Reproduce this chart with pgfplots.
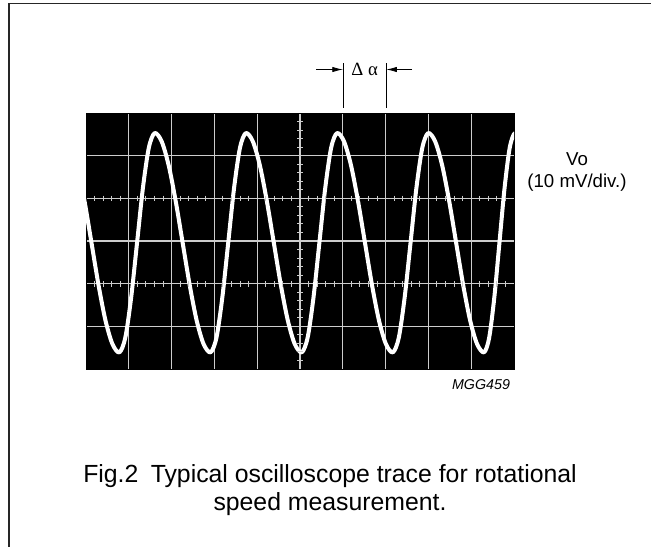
\documentclass[border=0pt]{standalone}
\usepackage{fontspec}
\setmainfont{Liberation Sans}
\newfontfamily\greekfont{Liberation Serif}
\usepackage{pgfplots}
\pgfplotsset{compat=1.18}
\usetikzlibrary{arrows.meta}

\begin{document}
\begin{tikzpicture}
% screen: reference pixels 86..514 x 113..369, 1px = 0.75pt
\begin{axis}[
    at={(64.5pt,-84.75pt)}, anchor=north west,
    width=321pt, height=192pt, scale only axis,
    xmin=0, xmax=10, ymin=-3, ymax=3,
    axis background/.style={fill=black},
    axis line style={draw=black},
    xtick={1,...,9}, ytick={-2,...,2},
    xticklabels={}, yticklabels={},
    major tick length=0pt,
    grid=major,
    grid style={gray!40, line width=0.8pt},
]
% Vo trace (x in div, y in div)
\addplot[white, line width=3pt, smooth, line join=round] coordinates {
    (-0.525,2.53)(-0.362,2.334)(-0.199,1.777)(-0.036,0.944)(0.128,-0.04)(0.291,-1.024)(0.454,-1.857)(0.617,-2.414)(0.780,-2.61)
    (0.918,-2.266)(1.055,-1.325)(1.193,-0.04)(1.330,1.245)(1.468,2.186)(1.605,2.53)
    (1.768,2.334)(1.931,1.777)(2.094,0.944)(2.258,-0.04)(2.421,-1.024)(2.584,-1.857)(2.747,-2.414)(2.910,-2.61)
    (3.048,-2.266)(3.185,-1.325)(3.323,-0.04)(3.460,1.245)(3.598,2.186)(3.735,2.53)
    (3.898,2.334)(4.061,1.777)(4.224,0.944)(4.388,-0.04)(4.551,-1.024)(4.714,-1.857)(4.877,-2.414)(5.040,-2.61)
    (5.178,-2.266)(5.315,-1.325)(5.453,-0.04)(5.590,1.245)(5.728,2.186)(5.865,2.53)
    (6.028,2.334)(6.191,1.777)(6.354,0.944)(6.518,-0.04)(6.681,-1.024)(6.844,-1.857)(7.007,-2.414)(7.170,-2.61)
    (7.308,-2.266)(7.445,-1.325)(7.583,-0.04)(7.720,1.245)(7.858,2.186)(7.995,2.53)
    (8.158,2.334)(8.321,1.777)(8.484,0.944)(8.648,-0.04)(8.811,-1.024)(8.974,-1.857)(9.137,-2.414)(9.300,-2.61)
    (9.42,-2.266)(9.54,-1.325)(9.66,-0.04)(9.78,1.245)(9.90,2.186)(10.02,2.53)(10.15,2.35)
};
\end{axis}

\begin{scope}[x=0.75pt,y=-0.75pt]
\path[use as bounding box] (0,0) rectangle (651,547);
\draw[black!85, line width=1.2pt] (9,547) -- (9,3.5) -- (651,3.5);

% graticule sub-division ticks
\foreach \i in {1,...,49} {
    \draw[gray!40, line width=0.8pt] ({86+8.56*\i},195.6) -- ({86+8.56*\i},201.0);
    \draw[gray!40, line width=0.8pt] ({86+8.56*\i},281.3) -- ({86+8.56*\i},286.7);
}
\foreach \j in {1,...,29}
    \draw[gray!40, line width=0.8pt] (297.3,{113+8.5333*\j}) -- (302.7,{113+8.5333*\j});

% delta alpha marker
\draw[line width=0.6pt] (343.3,63) -- (343.3,108);
\draw[line width=0.6pt] (386,63) -- (386,108);
\draw[line width=0.6pt, -{Latex[length=8pt,width=4pt]}] (316,69.5) -- (343,69.5);
\draw[line width=0.6pt, -{Latex[length=8pt,width=4pt]}] (412,69.5) -- (386.3,69.5);
\node[anchor=base, font=\greekfont\fontsize{14}{16}\selectfont, inner sep=0pt] at (364.6,75) {Δ α};

\node[anchor=base, font=\fontsize{14}{17}\selectfont, inner sep=0pt] at (577,165) {Vo};
\node[anchor=base, font=\fontsize{14}{17}\selectfont, inner sep=0pt] at (577,187) {(10 mV/div.)};
\node[anchor=base, font=\itshape\fontsize{10.7}{13}\selectfont, inner sep=0pt] at (481,389) {MGG459};

\node[anchor=base, font=\fontsize{18.6}{22}\selectfont, inner sep=0pt] at (330,482) {Fig.2\hspace{0.5em}Typical oscilloscope trace for rotational};
\node[anchor=base, font=\fontsize{18.6}{22}\selectfont, inner sep=0pt] at (330,510) {speed measurement.};
\end{scope}
\end{tikzpicture}
\end{document}
